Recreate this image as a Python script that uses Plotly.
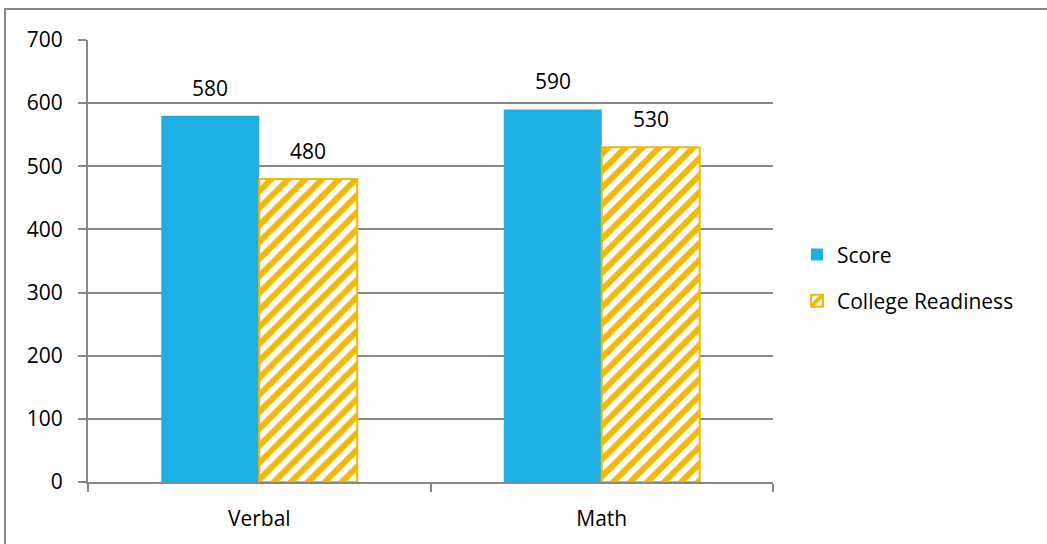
import plotly.graph_objects as go

categories = ["Verbal", "Math"]
score = [580, 590]
readiness = [480, 530]
series_names = ["Score", "College Readiness"]
y_ticks = [0, 100, 200, 300, 400, 500, 600, 700]

BLUE = "#1DB0E6"
GOLD = "#F5B800"
GRID = "#878787"
FONT = "'Open Sans', sans-serif"
FS = 21

fig = go.Figure()
fig.add_trace(go.Bar(
    x=categories, y=score, name=series_names[0], legendgroup="a",
    marker=dict(color=BLUE, line=dict(width=0)),
))
fig.add_trace(go.Bar(
    x=categories, y=readiness, name=series_names[1], legendgroup="b",
    marker=dict(color="white", line=dict(color=GOLD, width=2),
                pattern=dict(shape="/", fgcolor=GOLD, fgopacity=1, bgcolor="white",
                             size=12, solidity=0.5)),
))

annotations = []
for vals, shift in ((score, -49), (readiness, 49)):
    for c, v in zip(categories, vals):
        annotations.append(dict(x=c, y=v, xref="x", yref="y", text=str(v), showarrow=False,
                                xshift=shift, yshift=12, yanchor="bottom",
                                font=dict(size=FS, family=FONT, color="#000000")))

fig.update_layout(
    width=1047, height=544,
    margin=dict(l=88, r=274, t=40, b=62),
    paper_bgcolor="white", plot_bgcolor="white",
    barmode="group", bargap=0.428, bargroupgap=0,
    font=dict(family=FONT, size=FS, color="#000000"),
    showlegend=True,
    legend=dict(x=1.035, y=0.462, xanchor="left", yanchor="middle",
                font=dict(size=FS, family=FONT), tracegroupgap=16,
                itemwidth=30, bgcolor="rgba(0,0,0,0)"),
    xaxis=dict(type="category", tickson="boundaries", ticks="outside", ticklen=8,
               tickcolor=GRID, tickwidth=2, showline=True, linecolor=GRID, linewidth=2,
               showgrid=False, range=[-0.5, 1.5], tickfont=dict(size=FS),
               ticklabelstandoff=17),
    yaxis=dict(range=[0, 700], tickvals=y_ticks, ticks="outside", ticklen=8,
               tickcolor=GRID, tickwidth=2, showline=True, linecolor=GRID, linewidth=2,
               showgrid=True, gridcolor=GRID, gridwidth=2, zeroline=False,
               tickfont=dict(size=FS), ticklabelstandoff=11),
    annotations=annotations,
    shapes=[dict(type="rect", xref="paper", yref="paper",
                 x0=-0.1212, x1=2.0, y0=-1.0, y1=1.0701,
                 line=dict(color=GRID, width=2), fillcolor="rgba(0,0,0,0)", layer="below")],
)

fig.write_html("out.html", config={"displayModeBar": False},
               post_script="document.body.style.margin='0';document.body.style.padding='0';document.body.style.overflow='hidden';")
